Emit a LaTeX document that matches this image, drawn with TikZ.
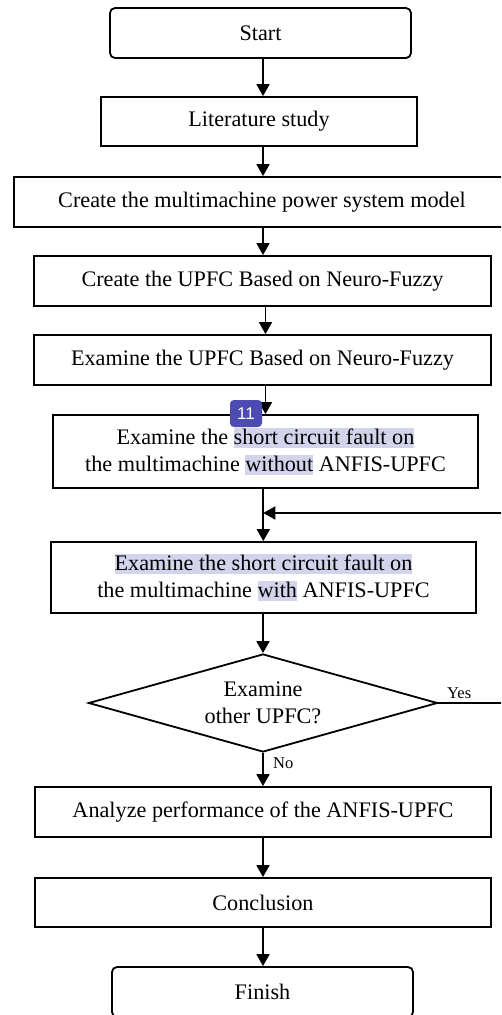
\documentclass[tikz,border=0pt]{standalone}
\usepackage{fontspec}
\setmainfont{Liberation Serif}
\newfontfamily\badgefont{Liberation Sans}
\usetikzlibrary{arrows.meta,shapes.geometric}
\definecolor{hlcol}{HTML}{D3D3EC}
\definecolor{badgecol}{HTML}{4B4BB2}
\newcommand\hlt[1]{\begingroup\setlength\fboxsep{0pt}\colorbox{hlcol}{\rule[-4pt]{0pt}{20.5pt}#1}\endgroup}
\tikzset{
  box/.style={draw, line width=1.8pt, rectangle, inner sep=0pt, align=center,
              font=\fontsize{22.2}{27}\selectfont},
  term/.style={box, rounded corners=5pt},
  dec/.style={draw, line width=1.8pt, diamond, inner sep=0pt, align=center,
              font=\fontsize{22.2}{27}\selectfont, aspect=3.56},
  arr/.style={line width=1.8pt, -{Triangle[length=12pt,width=13pt]}},
  lbl/.style={inner sep=0pt, anchor=base west, font=\fontsize{16.5}{20}\selectfont},
  badge/.style={fill=badgecol, rounded corners=4pt, inner sep=0pt, text=white,
                font=\badgefont\fontsize{17}{18}\selectfont}
}
\begin{document}
\begin{tikzpicture}[x=1pt,y=-1pt]
\useasboundingbox (0,0) rectangle (501,1015);
\clip (0,0) rectangle (501,1015);
\fill[white] (0,0) rectangle (501,1015);

\node[term, minimum width=301pt, minimum height=50pt] (start) at (260.5,33) {Start};
\node[box, minimum width=316pt, minimum height=49pt] (lit) at (259,121.5) {Literature study};
\node[box, minimum width=496pt, minimum height=50pt] (multi) at (262,202) {Create the multimachine power system model};
\node[box, minimum width=457pt, minimum height=50pt] (cupfc) at (262.5,281) {Create the UPFC Based on Neuro-Fuzzy};
\node[box, minimum width=457pt, minimum height=50pt] (eupfc) at (262.5,360) {Examine the UPFC Based on Neuro-Fuzzy};
\node[box, minimum width=425pt, minimum height=73pt] (ex1) at (265.5,451.5)
  {Examine the \hlt{short circuit fault on}\\the multimachine \hlt{without} ANFIS-UPFC};
\node[box, minimum width=425pt, minimum height=71pt] (ex2) at (263.5,577.5)
  {\hlt{Examine the short circuit fault on}\\the multimachine \hlt{with} ANFIS-UPFC};
\node[dec, minimum width=349pt, minimum height=98pt] (dia) at (263,703) {Examine\\other UPFC?};
\node[box, minimum width=456pt, minimum height=50pt] (ana) at (263,812) {Analyze performance of the ANFIS-UPFC};
\node[box, minimum width=456pt, minimum height=49pt] (conc) at (263,902.5) {Conclusion};
\node[term, minimum width=301pt, minimum height=50pt] (fin) at (262.5,992) {Finish};

\coordinate (ax) at (263,0);
\coordinate (bx) at (265.5,0);
\coordinate (fbA) at (510,703);
\coordinate (join) at (263.3,513);

\draw[arr] (start.south -| ax) -- (lit.north -| ax);
\draw[arr] (lit.south -| ax) -- (multi.north -| ax);
\draw[arr] (multi.south -| ax) -- (cupfc.north -| ax);
\draw[arr] (cupfc.south -| bx) -- (eupfc.north -| bx);
\draw[arr] (eupfc.south -| bx) -- (ex1.north -| bx);
\draw[arr] (ex1.south -| join) -- (ex2.north -| join);
\draw[arr] (ex2.south -| dia.north) -- (dia.north);
\draw[arr] (dia.south) -- (ana.north -| dia.south);
\draw[arr] (ana.south -| ax) -- (conc.north -| ax);
\draw[arr] (conc.south -| ax) -- (fin.north -| ax);
\draw[arr] (dia.east) -- (fbA) |- (join);

\node[lbl] (yes) at (447,698) {Yes};
\node[lbl] (no) at (273,768) {No};

\node[badge, minimum width=32pt, minimum height=27pt] (b11) at (246,413.5) {11};
\end{tikzpicture}
\end{document}
